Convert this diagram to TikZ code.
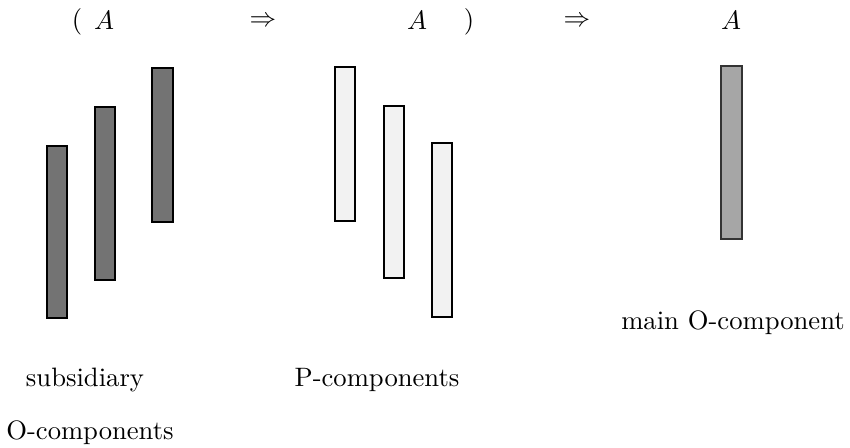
\documentclass[tikz,border=0pt]{standalone}
\usepackage{amsmath, amssymb}
\usepackage{tikz}

\begin{document}
\begin{tikzpicture}[x=0.0132cm, y=-0.0132cm,
    obar/.style={draw=black, fill=black!55},
    pbar/.style={draw=black, thick, fill=black!5},
    mbar/.style={draw=black!80, fill=black!35}]
        \useasboundingbox (0,0) rectangle (850,447);
        % Top row: ( A => A ) => A
        \node (lpar) at (77,22) {$($};
        \node (a1) at (104,20) {$A$};
        \node (imp1) at (263,22) {$\Rightarrow$};
        \node (a2) at (417,20) {$A$};
        \node (rpar) at (469,22) {$)$};
        \node (imp2) at (577,22) {$\Rightarrow$};
        \node (a3) at (731,20) {$A$};
        % Subsidiary O-components (dark)
        \draw[obar] (47,146) rectangle (67,318);
        \draw[obar] (95,107) rectangle (115,280);
        \draw[obar] (152,68) rectangle (173,222);
        % P-components (light)
        \draw[pbar] (335,67) rectangle (355,221);
        \draw[pbar] (384,106) rectangle (404,278);
        \draw[pbar] (432,143) rectangle (452,317);
        % Main O-component
        \draw[mbar] (721,66) rectangle (742,239);
        % Labels
        \node (mainlbl) at (733,323) {main O-component};
        \node (sublbl) at (85,380) {subsidiary};
        \node (olbl) at (90,433) {O-components};
        \node (plbl) at (377,380) {P-components};
      \end{tikzpicture}
\end{document}
